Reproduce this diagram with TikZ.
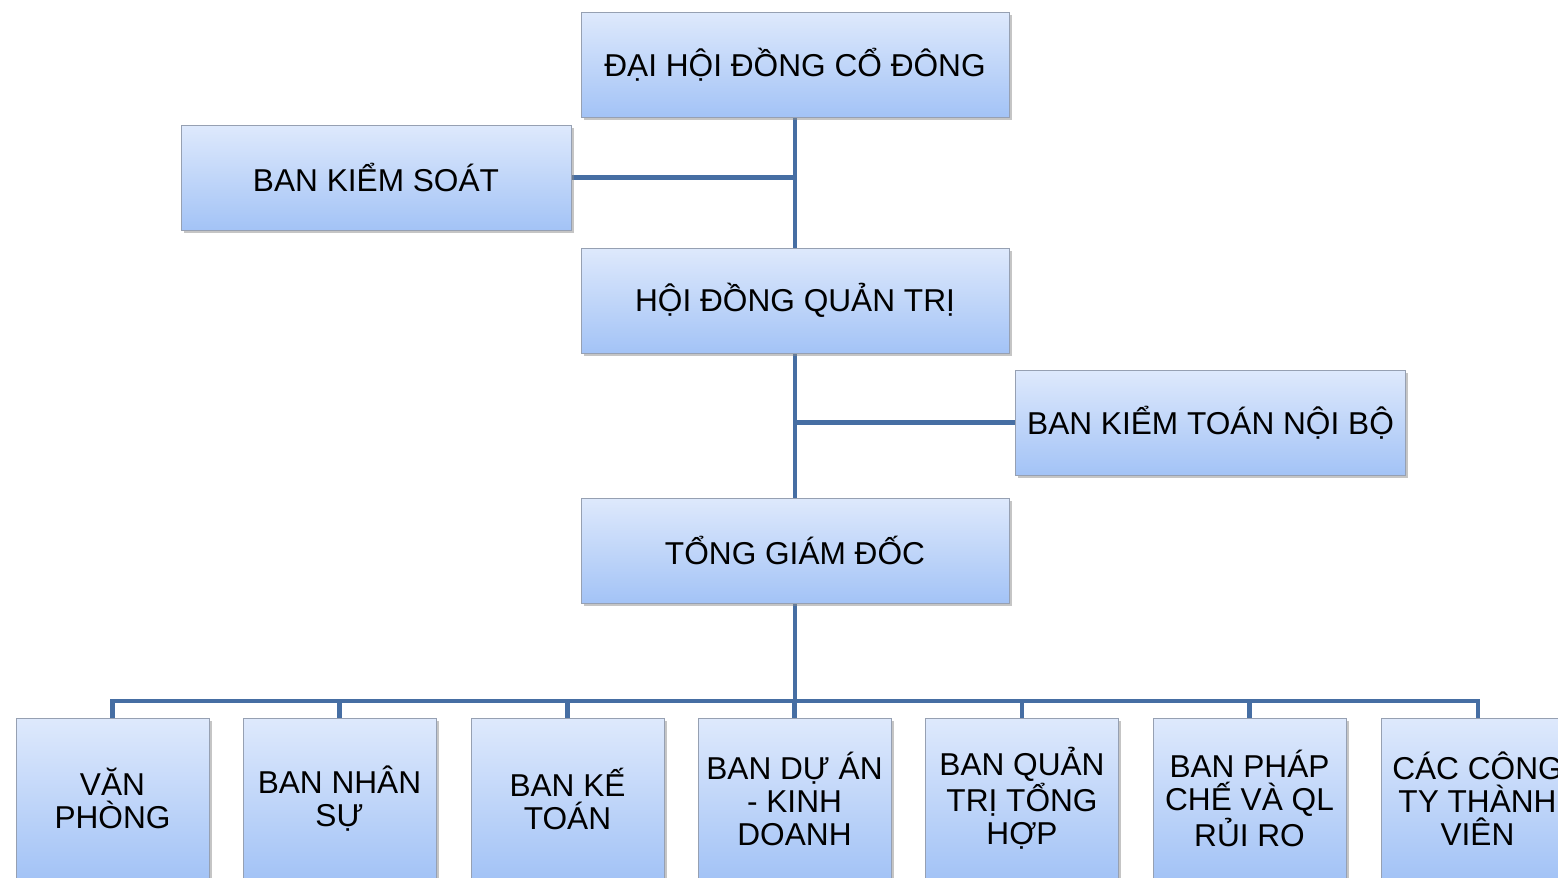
\documentclass[tikz,border=0pt]{standalone}
\usepackage{fontspec}
\setmainfont{Liberation Sans}
\usetikzlibrary{shadows,backgrounds}
\definecolor{boxtop}{RGB}{222,233,252}
\definecolor{boxbot}{RGB}{163,195,246}
\definecolor{boxborder}{RGB}{150,160,178}
\definecolor{conncol}{RGB}{70,110,163}
\tikzset{
  orgbox/.style={draw=boxborder, line width=0.5pt, top color=boxtop, bottom color=boxbot,
    align=center, inner sep=2pt, font=\fontsize{18}{18.8}\selectfont,
    drop shadow={shadow xshift=1.6pt, shadow yshift=-1.6pt, fill=black!45, opacity=0.5}},
  widebox/.style={orgbox, minimum width=8.56cm, minimum height=2.1cm},
  sidebox/.style={orgbox, minimum width=7.8cm, minimum height=2.1cm},
  lowbox/.style={orgbox, minimum width=3.86cm, minimum height=3.2cm},
  conn/.style={draw=conncol, line width=2.3pt}
}
\begin{document}
\begin{tikzpicture}[x=0.02cm, y=-0.02cm]
\useasboundingbox (0,0) rectangle (1558,878);
\node[widebox] (dh) at (795,64.5) {ĐẠI HỘI ĐỒNG CỔ ĐÔNG};
\node[sidebox] (bks) at (376,177.5) {BAN KIỂM SOÁT};
\node[widebox] (hd) at (795,300.5) {HỘI ĐỒNG QUẢN TRỊ};
\node[sidebox] (ktnb) at (1210.5,422.5) {BAN KIỂM TOÁN NỘI BỘ};
\node[widebox] (tgd) at (795,550.5) {TỔNG GIÁM ĐỐC};
\node[lowbox] (b1) at (112.5,798.5) {VĂN\\PHÒNG};
\node[lowbox] (b2) at (339.5,798.5) {BAN NHÂN\\SỰ};
\node[lowbox] (b3) at (567.5,798.5) {BAN KẾ\\TOÁN};
\node[lowbox] (b4) at (794.5,798.5) {BAN DỰ ÁN\\- KINH\\DOANH};
\node[lowbox] (b5) at (1022,798.5) {BAN QUẢN\\TRỊ TỔNG\\HỢP};
\node[lowbox] (b6) at (1249.5,798.5) {BAN PHÁP\\CHẾ VÀ QL\\RỦI RO};
\node[lowbox] (b7) at (1477.5,798.5) {CÁC CÔNG\\TY THÀNH\\VIÊN};
\coordinate (bus) at (795,701);
\begin{scope}[on background layer]
\draw[conn] (dh.south) -- (tgd.north);
\draw[conn] (bks.east) -- (bks.east -| dh.south);
\draw[conn] (ktnb.west) -- (ktnb.west -| hd.south);
\draw[conn] (tgd.south) -- (bus);
\foreach \i in {1,...,7} {\draw[conn] (bus) -| (b\i.north);}
\end{scope}
\end{tikzpicture}
\end{document}
